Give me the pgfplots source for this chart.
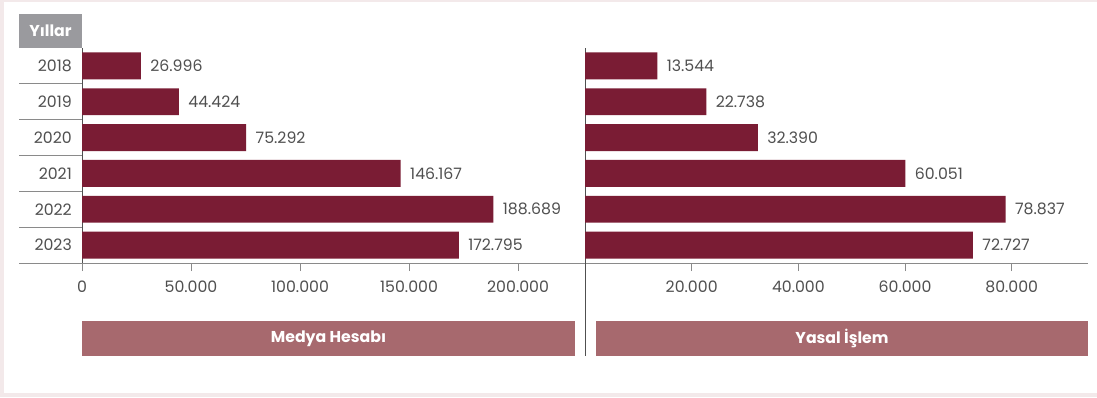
\documentclass[border=0pt]{standalone}
\usepackage{fontspec}
\setmainfont{Poppins}
\usepackage{pgfplots}
\pgfplotsset{compat=1.18}
\definecolor{barc}{HTML}{7A1C34}
\definecolor{lab}{HTML}{A7696E}
\definecolor{hdr}{HTML}{9A9A9E}
\definecolor{txt}{HTML}{505050}
\definecolor{axl}{HTML}{8A8A8A}
\definecolor{axd}{HTML}{505050}
\definecolor{frm}{HTML}{F3E9EA}
\newcommand{\lf}{\fontsize{15.8}{18}\selectfont}
\pgfplotsset{
 panel/.style={
  scale only axis, width=503bp, height=215bp,
  xbar, bar width=0.75, y dir=reverse,
  ymin=-0.5, ymax=5.5, ytick={0,...,5},
  axis x line*=bottom, axis y line*=left,
  x axis line style={draw=axl, line width=1bp, -},
  y axis line style={draw=axd, line width=1bp, -},
  tick align=outside, major tick length=8bp,
  xtick style={draw=axl, line width=1bp},
  ytick style={draw=none},
  scaled x ticks=false,
  every tick label/.append style={font=\lf, text=txt},
  xticklabel style={yshift=-6bp},
  /pgf/number format/assume math mode=true,
  point meta=x,
  nodes near coords={\pgfmathprintnumber[fixed,precision=0,1000 sep={.}]{\pgfplotspointmeta}},
  every node near coord/.append style={font=\lf, text=txt, xshift=6bp},
  clip=false,
 }
}
\begin{document}
\begin{tikzpicture}[x=1bp,y=1bp]
\fill[frm] (0,0) rectangle (1097,397);
\fill[white] (4,4) rectangle (1097,395);
\fill[hdr] (19,349) rectangle (82,383);
\node[text=white, font=\bfseries\lf] at (50.5,366) {Yıllar};
\foreach \yy in {313.2,277.3,241.5,205.7,169.8} \draw[axl, line width=1bp] (19,\yy) -- (82,\yy);
\draw[axl, line width=1bp] (19,134) -- (82,134);
\begin{axis}[panel, at={(82bp,134bp)}, anchor=south west,
  xmin=0, xmax=230700,
  xtick={0,50000,100000,150000,200000},
  xticklabels={0,50.000,100.000,150.000,200.000},
  yticklabels={2018,2019,2020,2021,2022,2023},
  yticklabel style={inner sep=0pt, xshift=-2bp}]
\addplot[fill=barc, draw=none] coordinates {(26996,0) (44424,1) (75292,2) (146167,3) (188689,4) (172795,5)};
\end{axis}
\begin{axis}[panel, at={(585bp,134bp)}, anchor=south west,
  xmin=0, xmax=94300,
  xtick={20000,40000,60000,80000},
  xticklabels={20.000,40.000,60.000,80.000},
  yticklabels={}]
\addplot[fill=barc, draw=none] coordinates {(13544,0) (22738,1) (32390,2) (60051,3) (78837,4) (72727,5)};
\end{axis}
\draw[axd, line width=1bp] (585,134) -- (585,41);
\fill[lab] (82,41) rectangle (575,76);
\fill[lab] (596,41) rectangle (1088,76);
\node[text=white, font=\bfseries\lf] at (328.5,58.5) {Medya Hesabı};
\node[text=white, font=\bfseries\lf] at (842,58.5) {Yasal İşlem};
\end{tikzpicture}
\end{document}
